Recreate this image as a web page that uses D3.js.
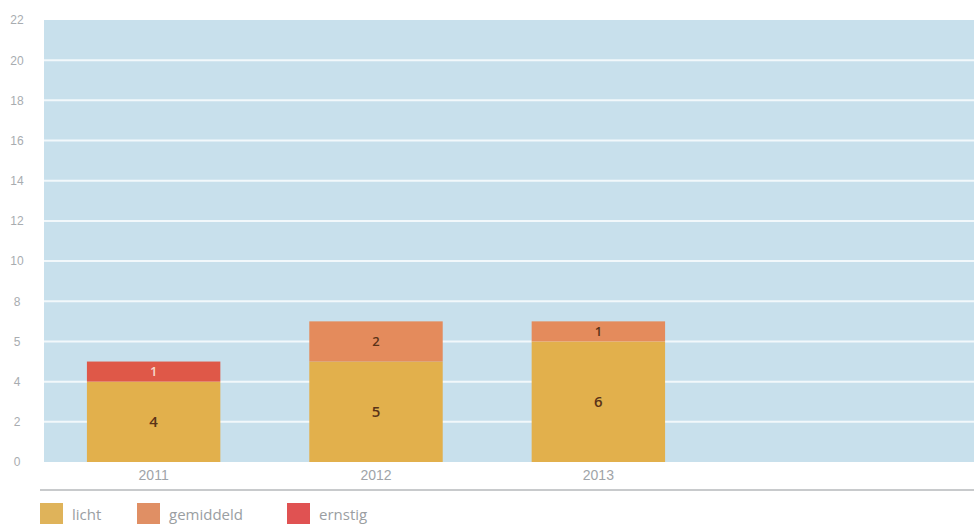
<!DOCTYPE html>
<html><head><meta charset="utf-8">
<script src="https://cdn.jsdelivr.net/npm/d3@7"></script>
<style>body{margin:0;background:#fff;} svg{display:block;font-family:"Open Sans",sans-serif;}</style>
</head><body>
<script>
const years = ["2011","2012","2013"];
const licht = [4,5,6];
const gemiddeld = [0,2,1];
const ernstig = [1,0,0];
const seriesNames = ["licht","gemiddeld","ernstig"];
const seriesColors = ["#e2b04c","#e48b5c","#df5848"];
const legendColors = ["#dfb35a","#e08f64","#e05252"];
const yTicks = [0,2,4,6,8,10,12,14,16,18,20,22];
const yTickLabels = ["0","2","4","5","8","10","12","14","16","18","20","22"];

const W=974,H=524;
const svg=d3.select("body").append("svg").attr("width",W).attr("height",H);
const plotL=44, plotR=974, plotT=20, plotB=462;
const y=d3.scaleLinear().domain([0,22]).range([plotB,plotT]);
const x=d3.scaleBand().domain(years).range([44,708]).paddingInner(0.4).paddingOuter(0.193);

svg.append("rect").attr("x",plotL).attr("y",plotT).attr("width",plotR-plotL).attr("height",plotB-plotT).attr("fill","#c8e0ec");
svg.append("g").selectAll("line").data(yTicks.filter(d=>d>0&&d<22)).join("line")
  .attr("x1",plotL).attr("x2",plotR).attr("y1",d=>y(d)).attr("y2",d=>y(d))
  .attr("stroke","#f2f8fb").attr("stroke-width",2);

const yAxis=d3.axisLeft(y).tickValues(yTicks).tickFormat((d,i)=>yTickLabels[i]).tickSize(0);
const ga=svg.append("g").attr("transform","translate(28,0)").call(yAxis);
ga.select(".domain").remove();
ga.selectAll("text").attr("fill","#a8acb0").attr("font-size",12).attr("font-weight",300).attr("text-anchor","middle").attr("dx",-8);

const data=years.map((yr,i)=>({year:yr,licht:licht[i],gemiddeld:gemiddeld[i],ernstig:ernstig[i]}));
const stack=d3.stack().keys(seriesNames)(data);
stack.forEach((s,si)=>{
  const g=svg.append("g");
  g.selectAll("rect").data(s.filter(d=>d[1]-d[0]>0)).join("rect")
    .attr("x",d=>x(d.data.year)).attr("width",x.bandwidth())
    .attr("y",d=>y(d[1])).attr("height",d=>y(d[0])-y(d[1]))
    .attr("fill",seriesColors[si]);
  g.selectAll("text").data(s.filter(d=>d[1]-d[0]>0)).join("text")
    .attr("x",d=>x(d.data.year)+x.bandwidth()/2)
    .attr("y",d=>(y(d[0])+y(d[1]))/2)
    .attr("dy","0.35em").attr("text-anchor","middle")
    .attr("font-size",d=>(d[1]-d[0])>=3?15:13)
    .attr("font-weight",600)
    .attr("fill",si===2?"#f6d8cc":"#5a3318")
    .text(d=>d[1]-d[0]);
});

const xAxis=d3.axisBottom(x).tickSize(0);
const gx=svg.append("g").attr("transform",`translate(0,${plotB})`).call(xAxis);
gx.select(".domain").remove();
gx.selectAll("text").attr("fill","#a0a4a8").attr("font-size",14).attr("dy","1.05em");

svg.append("line").attr("x1",40).attr("x2",W).attr("y1",490).attr("y2",490).attr("stroke","#c8cacc").attr("stroke-width",2);

const legX=[40,137,287];
const lg=svg.append("g");
seriesNames.forEach((n,i)=>{
  lg.append("rect").attr("x",legX[i]).attr("y",503).attr("width",23).attr("height",22).attr("fill",legendColors[i]);
  lg.append("text").attr("x",legX[i]+32).attr("y",520).attr("font-size",15).attr("fill","#9a9ea2").text(n);
});
</script>
</body></html>
